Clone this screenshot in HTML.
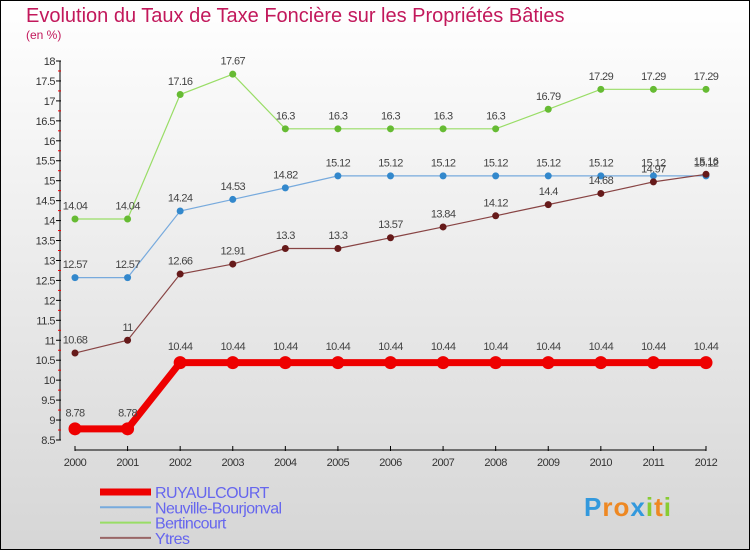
<!DOCTYPE html>
<html><head><meta charset="utf-8"><style>
html,body{margin:0;padding:0}
body{width:750px;height:550px;overflow:hidden;font-family:"Liberation Sans",sans-serif}
#wrap{position:absolute;left:0;top:0;width:748px;height:548px;border:1px solid #000;background:linear-gradient(#ffffff,#d6d6d6)}
</style></head><body>
<div id="wrap">
<svg id="chart" width="748" height="548" viewBox="1 1 748 548" xmlns="http://www.w3.org/2000/svg"></svg>
</div>
<script>
const years=["2000","2001","2002","2003","2004","2005","2006","2007","2008","2009","2010","2011","2012"];
const ruy=[8.78,8.78,10.44,10.44,10.44,10.44,10.44,10.44,10.44,10.44,10.44,10.44,10.44];
const neu=[12.57,12.57,14.24,14.53,14.82,15.12,15.12,15.12,15.12,15.12,15.12,15.12,15.12];
const ber=[14.04,14.04,17.16,17.67,16.3,16.3,16.3,16.3,16.3,16.79,17.29,17.29,17.29];
const ytr=[10.68,11,12.66,12.91,13.3,13.3,13.57,13.84,14.12,14.4,14.68,14.97,15.16];
const yTicks=[8.5,9,9.5,10,10.5,11,11.5,12,12.5,13,13.5,14,14.5,15,15.5,16,16.5,17,17.5,18];
const svg=document.getElementById('chart');
const NS='http://www.w3.org/2000/svg';
const X=i=>75+i*(706-75)/(years.length-1);
const Y=v=>440-(v-8.5)*(379/9.5);
function mk(t,a,p){const e=document.createElementNS(NS,t);for(const k in a)e.setAttribute(k,a[k]);(p||svg).appendChild(e);return e;}
const title=mk('text',{x:26,y:22,'font-size':20,fill:'#c2185b'});title.textContent='Evolution du Taux de Taxe Foncière sur les Propriétés Bâties';


const sub=mk('text',{x:26,y:39,'font-size':12,fill:'#c2185b'});sub.textContent='(en %)';


// y axis
const ya=mk('g',{});


mk('line',{x1:60,y1:Y(18),x2:60,y2:Y(8.5),stroke:'#000'},ya);
yTicks.forEach(v=>{
 mk('line',{x1:56,y1:Y(v),x2:61,y2:Y(v),stroke:'#000'},ya);
 if(v<18)mk('line',{x1:58,y1:Y(v+0.25),x2:61,y2:Y(v+0.25),stroke:'#e00'},ya);
 const t=mk('text',{x:55,y:Y(v)+4,'font-size':11,fill:'#333','text-anchor':'end','letter-spacing':'-0.5'},ya);t.textContent=String(v);
});
// x axis
const xa=mk('g',{});


mk('line',{x1:75,y1:450,x2:706,y2:450,stroke:'#000'},xa);
years.forEach((y,i)=>{
 mk('line',{x1:X(i),y1:446,x2:X(i),y2:451,stroke:'#000'},xa);
 const t=mk('text',{x:X(i),y:466,'font-size':11,fill:'#333','text-anchor':'middle','letter-spacing':'-0.5'},xa);t.textContent=y;
});
function series(vals,color,dot,w,r,name){
 const g=mk('g',{});
 
 
 mk('polyline',{points:vals.map((v,i)=>X(i)+','+Y(v)).join(' '),fill:'none',stroke:color,'stroke-width':w},g);
 vals.forEach((v,i)=>{
  const c=mk('circle',{cx:X(i),cy:Y(v),r:r,fill:dot},g);
  
  
  const t=mk('text',{x:X(i),y:Y(v)-(r+6),'font-size':11,fill:'#444','text-anchor':'middle','letter-spacing':'-0.6'},g);t.textContent=String(v);
 });
}
series(ber,'#99dd66','#66bb33',1.2,3.5,'bertincourt-series');
series(neu,'#77aadd','#3388cc',1.2,3.5,'neuville-series');
series(ytr,'#884444','#661a1a',1.2,3.5,'ytres-series');
series(ruy,'#ee0000','#ee0000',7,6.5,'ruyaulcourt-series');
// legend
const lg=[['RUYAULCOURT','#ee0000',7],['Neuville-Bourjonval','#77aadd',2],['Bertincourt','#99dd66',2],['Ytres','#996666',2]];
lg.forEach((l,i)=>{
 const g=mk('g',{});
 
 
 const y=492+i*15.3;
 mk('line',{x1:100,y1:y,x2:151,y2:y,stroke:l[1],'stroke-width':l[2]},g);
 const t=mk('text',{x:155,y:y+6,'font-size':16,fill:'#6666ee','letter-spacing':'-0.6'},g);t.textContent=l[0];
});
// logo
const lo=mk('text',{x:584,y:516,'font-size':26,'font-weight':'bold','letter-spacing':'1'});


[['P','#3399dd'],['r','#ee8822'],['o','#ee8822'],['x','#3399dd'],['i','#88cc33'],['t','#ee8822'],['i','#88cc33']].forEach(c=>{const s=mk('tspan',{fill:c[1]},lo);s.textContent=c[0];});
</script>
</body></html>
